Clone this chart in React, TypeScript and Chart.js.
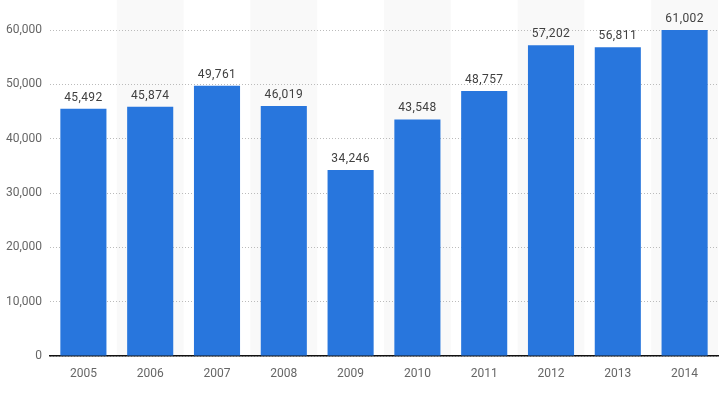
import React, { useEffect, useRef } from "react";
import { Chart, registerables } from "chart.js";

Chart.register(...registerables);

const years = ["2005", "2006", "2007", "2008", "2009", "2010", "2011", "2012", "2013", "2014"];
const values = [45492, 45874, 49761, 46019, 34246, 43548, 48757, 57202, 56811, 61002];
const yTicks = [0, 10000, 20000, 30000, 40000, 50000, 60000];

const FONT = "Roboto, 'Liberation Sans', sans-serif";

const bandPlugin = {
  id: "bands",
  beforeDraw(chart: any) {
    const { ctx, chartArea, scales } = chart;
    const x = scales.x;
    const step = (chartArea.right - chartArea.left) / years.length;
    ctx.save();
    ctx.fillStyle = "#f9f9f9";
    for (let i = 1; i < years.length; i += 2) {
      const c = x.getPixelForValue(i);
      ctx.fillRect(c - step / 2, 0, step, chartArea.bottom);
    }
    ctx.restore();
  },
};

const labelPlugin = {
  id: "valueLabels",
  afterDatasetsDraw(chart: any) {
    const { ctx } = chart;
    const meta = chart.getDatasetMeta(0);
    ctx.save();
    ctx.font = `12px ${FONT}`;
    try {
      (ctx as any).letterSpacing = "0.4px";
    } catch (e) {}
    ctx.fillStyle = "#404040";
    ctx.textAlign = "center";
    ctx.textBaseline = "alphabetic";
    meta.data.forEach((bar: any, i: number) => {
      const top = Math.max(bar.y, chart.chartArea.top);
      ctx.fillText(values[i].toLocaleString("en-US"), bar.x, top - 8);
    });
    ctx.restore();
  },
};

export default function App() {
  const ref = useRef<HTMLCanvasElement>(null);
  useEffect(() => {
    document.body.style.margin = "0";
    const chart = new Chart(ref.current!, {
      type: "bar",
      data: {
        labels: years,
        datasets: [
          {
            data: values,
            backgroundColor: "#2876dd",
            barPercentage: 0.69,
            categoryPercentage: 1,
          },
        ],
      },
      options: {
        animation: false,
        responsive: false,
        layout: { padding: { top: 30, right: 10, left: 0, bottom: 0 } },
        plugins: { legend: { display: false }, tooltip: { enabled: false } },
        scales: {
          x: {
            grid: { display: false },
            border: { display: true, color: "#111111", width: 1.5 },
            ticks: { color: "#666666", font: { size: 12, family: FONT }, padding: 3 },
            afterFit: (s: any) => {
              s.height = 37;
            },
          },
          y: {
            min: 0,
            max: 60000,
            afterBuildTicks: (s: any) => {
              s.ticks = yTicks.map((v) => ({ value: v }));
            },
            grid: { color: "#bbbbbb", drawTicks: false, lineWidth: 1 },
            border: { display: false, dash: [1, 2] },
            ticks: {
              color: "#666666",
              font: { size: 12, family: FONT },
              padding: 8,
              callback: (v: any) => Number(v).toLocaleString("en-US"),
            },
            afterFit: (s: any) => {
              s.width = 50;
            },
          },
        },
      },
      plugins: [bandPlugin, labelPlugin],
    });
    return () => chart.destroy();
  }, []);
  return <canvas ref={ref} width={728} height={393} style={{ display: "block" }} />;
}
